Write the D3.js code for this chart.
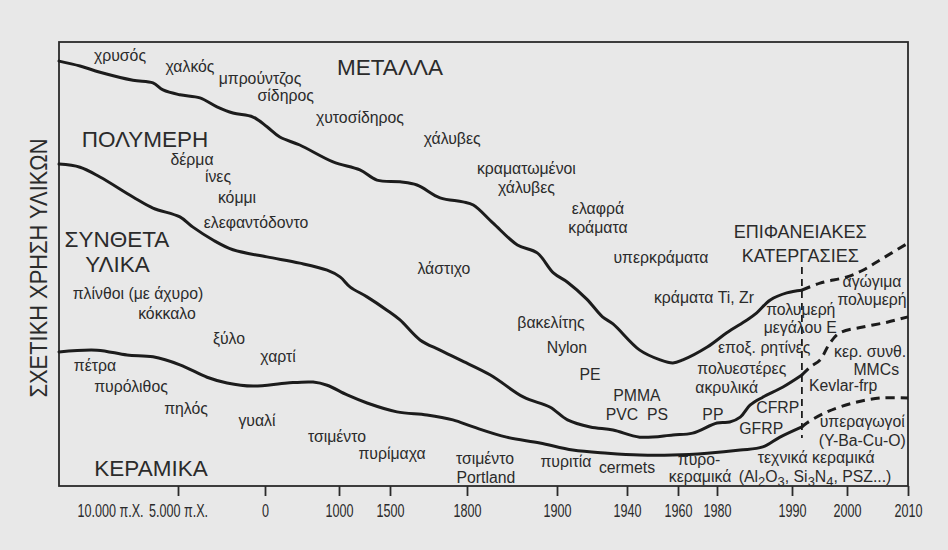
<!DOCTYPE html>
<html><head><meta charset="utf-8">
<script src="https://cdn.jsdelivr.net/npm/d3@7"></script>
<style>
html,body{margin:0;padding:0;background:#e8e8e8;}
svg{display:block;}
</style></head><body>
<svg id="chart" width="948" height="550"></svg>
<script>
// ---------------- DATA ----------------
const tickYears  = [-10000, -5000, 0, 1000, 1500, 1800, 1900, 1940, 1960, 1980, 1990, 2000, 2010];
const tickLabels = ["10.000 π.Χ.", "5.000 π.Χ.", "0", "1000", "1500", "1800", "1900", "1940", "1960", "1980", "1990", "2000", "2010"];
const startYear = -15000;

// boundary between METALS (above) and POLYMERS (below)
const metalsYears = [-15000,-12940,-10980,-8310,-6840,-6100,-4890,-3740,-2760,-1840,-690,27,200,470,920,1205,1372,1539,1605,1695,1784,1807,1829,1856,1878,1896,1906,1917,1926,1932,1945,1953,1958,1962.5,1975,1981.3,1984,1985.3,1987.1,1989.3,1991.8];
const metalsUse   = [95.7,94.6,93.2,91.4,90.8,89.2,88.1,87.4,85.4,84.0,83.1,80.9,78.6,76.8,73.0,71.2,68.9,68.5,67.8,64.9,64.0,63.3,59.2,54.3,52.5,48.0,45.9,42.1,38.1,36.5,30.6,28.4,27.7,28.4,31.3,34.5,37.4,39.0,41.9,43.5,44.1];
const metalsFutureYears = [1991.8,1995.1,2000,2002.6,2005.4,2010];
const metalsFutureUse   = [44.1,45.7,47.1,48.6,50.9,54.7];

// boundary between POLYMERS (above) and COMPOSITES (below)
const polymersYears = [-15000,-12940,-10980,-8310,-6840,-4890,-4140,-2990,-1840,27,470,840,1010,1110,1275,1470,1539,1617,1695,1773,1826,1863,1892,1906,1919,1932,1945,1958,1967.5,1980,1981.7,1983.1,1984.4,1986.1,1988.8,1991.8];
const polymersUse   = [72.5,71.8,69.6,65.1,62.6,60.6,58.3,55.4,53.2,51.6,50.2,48.6,47.1,44.8,42.6,39.6,37.4,32.9,30.6,28.4,25.0,20.0,17.8,14.9,13.3,12.6,11.0,11.5,11.9,14.2,14.4,15.5,18.2,20.0,22.3,25.0];
const polymersFutureYears = [1991.8,1993.3,1995.1,1996.9,1998.7,2002.6,2006.6,2010];
const polymersFutureUse   = [25.0,26.8,28.4,32.2,34.5,35.8,36.9,38.1];

// boundary between COMPOSITES (above) and CERAMICS (below)
const compositesYears = [-15000,-11270,-8750,-6840,-4890,-3330,-2180,-690,300,650,840,1080,1275,1527,1644,1745,1807,1844,1881,1909,1929,1945,1958,1975,1983.1,1986.1,1988.4,1991.8];
const compositesUse   = [30.2,30.6,29.5,29.1,27.3,24.5,23.2,22.5,23.2,23.4,22.7,20.5,18.7,16.7,16.0,14.9,13.3,11.0,9.7,8.1,7.4,7.0,7.0,7.4,8.1,8.8,11.0,13.3];
const compositesFutureYears = [1991.8,1992.7,1996.4,2001,2005.4,2010];
const compositesFutureUse   = [13.3,14.2,16.7,18.7,19.8,19.8];

// "today" divider
const dividerYear = 1991.8;
const dividerRange = [10.8, 49.3];

// family names
const groupNames  = ["ΜΕΤΑΛΛΑ","ΠΟΛΥΜΕΡΗ","ΣΥΝΘΕΤΑ","ΥΛΙΚΑ","ΚΕΡΑΜΙΚΑ"];
const groupYears  = [1500,-7426,-9485,-9449,-6985];
const groupValues = [92.6,76.4,53.8,48.2,2.3];

const surfaceNames  = ["ΕΠΙΦΑΝΕΙΑΚΕΣ","ΚΑΤΕΡΓΑΣΙΕΣ"];
const surfaceYears  = [1991.5,1991.5];
const surfaceValues = [55.9,50.5];

// individual materials
const materialNames = ["χρυσός","χαλκός","μπρούντζος","σίδηρος","χυτοσίδηρος","χάλυβες","κραματωμένοι","χάλυβες","ελαφρά","κράματα","υπερκράματα","κράματα Ti, Zr",
  "δέρμα","ίνες","κόμμι","ελεφαντόδοντο","λάστιχο","βακελίτης","Nylon","PE","PMMA","PVC\u00A0 PS","PP",
  "πολυμερή","μεγάλου E","εποξ. ρητίνες","πολυεστέρες","ακρυλικά","CFRP","GFRP","αγώγιμα","πολυμερή","κερ. συνθ.","MMCs","Kevlar-frp",
  "πλίνθοι (με άχυρο)","κόκκαλο","ξύλο","χαρτί","πέτρα","πυρόλιθος","πηλός","γυαλί","τσιμέντο","πυρίμαχα","τσιμέντο","Portland",
  "πυριτία","cermets","πυρο-","κεραμικά","τεχνικά κεραμικά","(Al_2O_3, Si_3N_4, PSZ...)","υπεραγωγοί","(Y-Ba-Cu-O)"];
const materialYears = [-9265,-4310,-290,280,1205,1742,1866,1866,1923.4,1923.4,1953.3,1973.3,
  -4195,-2701,-1609,-517,1710,1893.3,1905.7,1918.9,1943.9,1943.9,1977.9,
  1991.6,1991.5,1986.3,1983.3,1981.3,1988.1,1985.9,2004.1,2004.1,2003.8,2004.8,1999.3,
  -7941,-5809,-2069,176,-11471,-8456,-4540,-460,973,1508,1820,1821,
  1905.1,1940,1970.8,1971.3,1994.4,1994.2,2002.5,2002.5];
const materialValues = [95.7,93.2,90.6,86.7,81.8,77.0,70.3,66.0,61.3,57.0,50.2,41.2,
  72.3,68.5,63.7,58.1,47.7,35.6,30.0,23.9,19.1,14.9,14.9,
  38.5,34.5,30.0,25.2,20.9,16.4,11.7,44.8,40.8,29.1,25.1,21.4,
  42.1,37.6,32.0,27.9,25.9,21.2,16.2,13.5,9.9,6.1,4.9,0.6,
  4.3,2.9,4.7,0.9,5.2,0.9,13.3,9.0];

const yTitle = "ΣΧΕΤΙΚΗ ΧΡΗΣΗ ΥΛΙΚΩΝ";

// ---------------- LAYOUT ----------------
const W = 948, H = 550;
const plot = {left: 59, right: 908, top: 42, bottom: 486};
// pixel stops of the (non-uniform) time axis: plot edge, then each tick
const xStops = [59, 110, 178, 265, 339, 390, 467, 557, 627, 678, 717, 792, 847, 908];

const TEXT = "#2b2b2b";
const INK = "#1c1c1c";
const SANS = "'Liberation Sans', Arial, Helvetica, sans-serif";

const svg = d3.select("#chart");
svg.append("rect").attr("width", W).attr("height", H).attr("fill", "#e8e8e8");

const x = d3.scaleLinear().domain([startYear, ...tickYears]).range(xStops);
const y = d3.scaleLinear().domain([0, 100]).range([plot.bottom, plot.top]);

// frame
svg.append("rect")
  .attr("x", plot.left).attr("y", plot.top)
  .attr("width", plot.right - plot.left).attr("height", plot.bottom - plot.top)
  .attr("fill", "none").attr("stroke", "#2a2a2a").attr("stroke-width", 1.8);

// axis
const axisG = svg.append("g").attr("transform", `translate(0,${plot.bottom})`)
  .call(d3.axisBottom(x).tickValues(tickYears)
        .tickFormat(d => tickLabels[tickYears.indexOf(d)])
        .tickSize(10).tickSizeOuter(0).tickPadding(8));
axisG.select(".domain").remove();
axisG.selectAll(".tick line").attr("stroke", "#2a2a2a").attr("stroke-width", 1.8)
  .filter(d => d === tickYears[0]).remove();
axisG.selectAll(".tick text")
  .attr("fill", TEXT).style("font-family", SANS).style("font-size", "18px")
  .attr("transform", "scale(0.7,1)");

// y title
svg.append("text")
  .attr("transform", `translate(${plot.left - 12},${(plot.top + plot.bottom) / 2 + 4}) rotate(-90)`)
  .attr("text-anchor", "middle")
  .attr("fill", TEXT).style("font-family", SANS).style("font-size", "23px")
  .attr("textLength", 259).attr("lengthAdjust", "spacingAndGlyphs")
  .text(yTitle);

// curves
const line = d3.line().x(d => x(d[0])).y(d => y(d[1])).curve(d3.curveCatmullRom.alpha(0.5));
const series = [
  [metalsYears, metalsUse, metalsFutureYears, metalsFutureUse],
  [polymersYears, polymersUse, polymersFutureYears, polymersFutureUse],
  [compositesYears, compositesUse, compositesFutureYears, compositesFutureUse]
];
series.forEach(([ys, vs, fys, fvs]) => {
  svg.append("path").attr("d", line(d3.zip(ys, vs)))
    .attr("fill", "none").attr("stroke", INK).attr("stroke-width", 3)
    .attr("stroke-linejoin", "round").attr("stroke-linecap", "round");
  svg.append("path").attr("d", line(d3.zip(fys, fvs)))
    .attr("fill", "none").attr("stroke", INK).attr("stroke-width", 3)
    .attr("stroke-dasharray", "9 6");
});

// divider
svg.append("line")
  .attr("x1", x(dividerYear)).attr("x2", x(dividerYear))
  .attr("y1", y(dividerRange[1])).attr("y2", y(dividerRange[0]))
  .attr("stroke", INK).attr("stroke-width", 1.8).attr("stroke-dasharray", "7 5");

// labels
function addText(txt, yr, val, size) {
  const t = svg.append("text")
    .attr("x", x(yr)).attr("y", y(val))
    .attr("text-anchor", "middle")
    .attr("fill", TEXT).style("font-family", SANS).style("font-size", size + "px")
    .style("white-space", "pre");
  const parts = txt.split(/_(\d)/);
  if (parts.length === 1) { t.text(txt); return; }
  parts.forEach((p, i) => {
    const s = t.append("tspan").text(p);
    if (i % 2 === 1) s.attr("dy", 4).style("font-size", (size * 0.82) + "px");
    else if (i > 0) s.attr("dy", -4);
  });
}
groupNames.forEach((n, i) => addText(n, groupYears[i], groupValues[i], 22.5));
surfaceNames.forEach((n, i) => addText(n, surfaceYears[i], surfaceValues[i], 18));
materialNames.forEach((n, i) => addText(n, materialYears[i], materialValues[i], 15.8));
</script>
</body></html>
